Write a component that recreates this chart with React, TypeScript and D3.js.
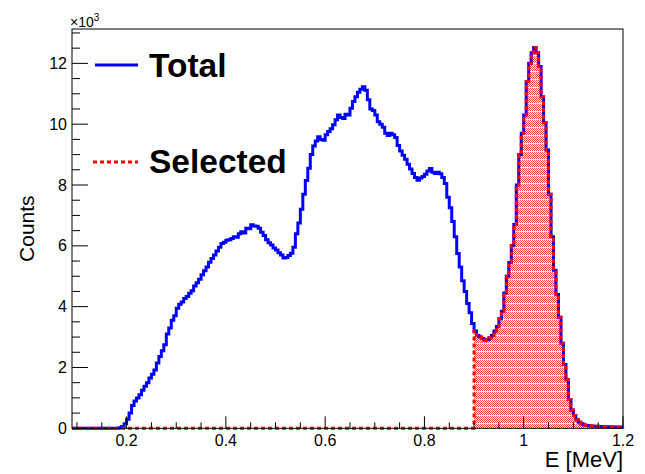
import React from "react";
import * as d3 from "d3";

// Histogram binning (MeV)
const binLow = 0.09;
const binWidth = 0.005;
// Total counts per bin; each row holds 10 bins (lower edges 0.090, 0.095, ...)
const totalCounts = [
  0, 0, 0, 0, 0, 0, 0, 0, 0, 0,
  0, 0, 0, 0, 0, 0, 0, 0, 0, 20,
  60, 150, 300, 500, 750, 900, 1000, 1100, 1250, 1380,
  1500, 1650, 1780, 1920, 2150, 2360, 2550, 2750, 3100, 3300,
  3550, 3700, 3950, 4080, 4150, 4270, 4330, 4440, 4520, 4680,
  4790, 4900, 5050, 5180, 5300, 5460, 5580, 5700, 5830, 5950,
  6080, 6120, 6180, 6200, 6240, 6300, 6280, 6400, 6460, 6420,
  6580, 6560, 6690, 6650, 6640, 6580, 6450, 6340, 6200, 6100,
  6030, 5930, 5860, 5770, 5700, 5600, 5620, 5680, 5760, 5950,
  6400, 6750, 7200, 7700, 8150, 8550, 9000, 9280, 9450, 9590,
  9500, 9470, 9650, 9760, 9850, 9980, 10150, 10300, 10220, 10190,
  10330, 10300, 10520, 10750, 10900, 11050, 11150, 11230, 11120, 10800,
  10500, 10450, 10300, 10080, 10000, 9900, 9700, 9630, 9700, 9650,
  9560, 9300, 9120, 8980, 8850, 8680, 8530, 8380, 8250, 8160,
  8230, 8280, 8350, 8460, 8540, 8420, 8380, 8420, 8370, 8250,
  8050, 7600, 7250, 6800, 6300, 5750, 5300, 4850, 4500, 4100,
  3800, 3450, 3200, 3050, 3000, 2950, 2900, 2910, 2980, 3050,
  3200, 3350, 3600, 3850, 4450, 5000, 5450, 6000, 6700, 8000,
  9000, 9700, 10300, 11400, 12000, 12350, 12520, 12350, 11900, 10900,
  10050, 9150, 7700, 6300, 5200, 4400, 3650, 2800, 2100, 1600,
  950, 600, 420, 280, 200, 150, 110, 90, 80, 75,
  70, 65, 60, 60, 55, 55, 50, 50, 45, 45,
  40, 40,
];
const selectionStart = 0.9;

const xDomain = [0.09, 1.2];
const yDomain = [0, 13130];
const xMajorTicks = [0.2, 0.4, 0.6, 0.8, 1.0, 1.2];
const xTickLabels = ["0.2", "0.4", "0.6", "0.8", "1", "1.2"];
const yMajorTicks = [0, 2000, 4000, 6000, 8000, 10000, 12000];
const yTickLabels = ["0", "2", "4", "6", "8", "10", "12"];
const legendLabels = ["Total", "Selected"];
const xTitle = "E [MeV]";
const yTitle = "Counts";

const W = 645;
const H = 474;
const L = 72;
const R = 623;
const T = 29;
const B = 428.3;
const FONT = "'Liberation Sans', Arial, Helvetica, sans-serif";

function stepPath(
  counts: number[],
  x: d3.ScaleLinear<number, number>,
  y: d3.ScaleLinear<number, number>
): string {
  let p = "";
  counts.forEach((c, i) => {
    const x0 = x(binLow + i * binWidth);
    const x1 = x(binLow + (i + 1) * binWidth);
    const yy = y(c);
    if (i === 0) p += `M${x0},${yy}`;
    else p += `V${yy}`;
    p += `H${x1}`;
  });
  return p;
}

export default function App() {
  const x = d3.scaleLinear().domain(xDomain).range([L, R]);
  const y = d3.scaleLinear().domain(yDomain).range([B, T]);

  const selectedCounts = totalCounts.map((c, i) =>
    binLow + i * binWidth >= selectionStart - 1e-9 ? c : 0
  );

  const totalPath = stepPath(totalCounts, x, y);
  const selPath = stepPath(selectedCounts, x, y);
  const selFill = selPath + `V${y(0)}H${x(binLow)}Z`;

  const xMinor = d3.range(0.1, 1.2001, 0.05).filter(
    (v) => !xMajorTicks.some((m) => Math.abs(m - v) < 1e-6)
  );
  const yMinor = d3.range(0, 13001, 500).filter((v) => v % 2000 !== 0);

  const patRows = d3.range(8);

  return (
    <svg
      width={W}
      height={H}
      style={{ position: "absolute", left: 0, top: 0, background: "#fff" }}
      fontFamily={FONT}
    >
      <defs>
        <pattern id="hatch" x="0" y="0" width="2" height="8" patternUnits="userSpaceOnUse">
          <rect x="0" y="0" width="2" height="8" fill="#ffffff" shapeRendering="crispEdges" />
          {patRows.slice(0, 7).map((r) => (
            <rect
              key={r}
              x={r % 2}
              y={r}
              width="1"
              height="1"
              fill="#ff4444"
              shapeRendering="crispEdges"
            />
          ))}
        </pattern>
      </defs>
      <rect x={0} y={0} width={W} height={H} fill="#fff" />

      {/* selected fill */}
      <path d={selFill} fill="url(#hatch)" stroke="none" shapeRendering="crispEdges" />

      {/* total histogram */}
      <path d={totalPath} fill="none" stroke="#0000ff" strokeWidth={3} />

      {/* selected outline */}
      <path
        d={selPath + `V${y(0)}`}
        fill="none"
        stroke="#ff0000"
        strokeWidth={3}
        strokeDasharray="4,3"
      />

      {/* frame */}
      <rect x={L} y={T} width={R - L} height={B - T} fill="none" stroke="#000" strokeWidth={1} />

      {/* x ticks */}
      {xMajorTicks.map((v, i) => (
        <g key={"xm" + i}>
          <line x1={x(v)} x2={x(v)} y1={B} y2={B - 12} stroke="#000" strokeWidth={1} />
          <text x={x(v)} y={445.5} fontSize={16} textAnchor="middle" fill="#000">
            {xTickLabels[i]}
          </text>
        </g>
      ))}
      {xMinor.map((v, i) => (
        <line key={"xn" + i} x1={x(v)} x2={x(v)} y1={B} y2={B - 6} stroke="#000" strokeWidth={1} />
      ))}

      {/* y ticks */}
      {yMajorTicks.map((v, i) => (
        <g key={"ym" + i}>
          <line x1={L} x2={L + 16} y1={y(v)} y2={y(v)} stroke="#000" strokeWidth={1} />
          <text x={67} y={y(v) + 5.5} fontSize={16} textAnchor="end" fill="#000">
            {yTickLabels[i]}
          </text>
        </g>
      ))}
      {yMinor.map((v, i) => (
        <line key={"yn" + i} x1={L} x2={L + 8} y1={y(v)} y2={y(v)} stroke="#000" strokeWidth={1} />
      ))}

      {/* exponent */}
      <text x={70} y={26.5} fontSize={14} fill="#000">
        ×10
        <tspan fontSize={10} dy={-5.5}>3</tspan>
      </text>

      {/* axis titles */}
      <text x={623} y={467} fontSize={22} textAnchor="end" fill="#000">
        {xTitle}
      </text>
      <text
        transform={`translate(34,${(T + B) / 2}) rotate(-90)`}
        fontSize={21}
        textAnchor="middle"
        fill="#000"
      >
        {yTitle}
      </text>

      {/* legend */}
      <line x1={95} x2={138} y1={65} y2={65} stroke="#0000ff" strokeWidth={3} />
      <text x={149} y={77} fontSize={33.5} fontWeight="bold" fill="#000">
        {legendLabels[0]}
      </text>
      <line
        x1={93}
        x2={138}
        y1={162}
        y2={162}
        stroke="#ff0000"
        strokeWidth={3}
        strokeDasharray="4,3"
      />
      <text x={149} y={173} fontSize={33.5} fontWeight="bold" fill="#000">
        {legendLabels[1]}
      </text>
    </svg>
  );
}
